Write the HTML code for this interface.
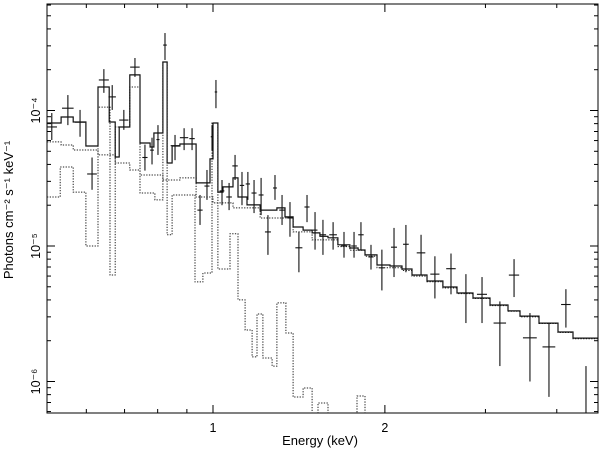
<!DOCTYPE html>
<html><head><meta charset="utf-8"><style>
html,body{margin:0;padding:0;background:#fff;width:600px;height:452px;overflow:hidden}
svg{display:block;font-family:"Liberation Sans",sans-serif}
</style></head><body>
<svg id="chart" width="600" height="452" viewBox="0 0 600 452" xmlns="http://www.w3.org/2000/svg">
<defs><clipPath id="plotclip"><rect x="47" y="4" width="551" height="409"/></clipPath></defs>
<rect x="47" y="4" width="551" height="409" fill="none" stroke="#000" stroke-width="1"/>
<g id="ticks"></g>
<g id="marks" clip-path="url(#plotclip)"></g>
<g id="labels" font-size="12.5" fill="#000"></g>
<text x="320" y="445" font-size="13" text-anchor="middle">Energy (keV)</text>
<text transform="translate(13,210) rotate(-90)" font-size="13" text-anchor="middle">Photons cm⁻² s⁻¹ keV⁻¹</text>
</svg>
<script>
// data points (flux in units of 1e-5 photons cm^-2 s^-1 keV^-1)
const energy = [0.522,0.557,0.585,0.614,0.644,0.666,0.698,0.730,0.760,0.782,0.801,0.824,0.858,0.890,0.919,0.949,0.976,0.996,1.012,1.037,1.067,1.093,1.124,1.151,1.180,1.214,1.248,1.284,1.321,1.364,1.414,1.461,1.509,1.558,1.623,1.696,1.766,1.816,1.891,1.976,2.075,2.177,2.314,2.447,2.611,2.773,2.959,3.18,3.367,3.59,3.876,4.15,4.5];
const energyErr = [0.011,0.013,0.012,0.012,0.013,0.010,0.013,0.014,0.008,0.006,0.005,0.006,0.015,0.015,0.010,0.010,0.010,0.005,0.005,0.010,0.012,0.012,0.010,0.010,0.012,0.012,0.015,0.010,0.015,0.015,0.020,0.015,0.015,0.020,0.025,0.020,0.020,0.020,0.020,0.020,0.025,0.025,0.040,0.045,0.050,0.060,0.060,0.080,0.070,0.100,0.100,0.080,0];
const flux = [7.56,10.4,8.2,3.4,16.8,12.6,8.5,20.9,4.5,5.1,6.1,30.4,5.5,6.3,6.2,1.84,2.77,6.4,13.7,2.55,2.3,3.9,2.8,2.87,2.46,2.38,1.27,2.68,1.84,1.61,0.97,1.94,1.31,1.21,1.21,1.0,1.0,1.21,0.83,0.69,0.98,1.03,0.89,0.62,0.68,0.45,0.44,0.27,0.61,0.21,0.18,0.37,0.003];
const fluxLo = [6.06,7.8,6.4,2.6,13.5,10.1,7.2,17.7,3.6,4.0,4.7,23.6,4.3,5.1,5.1,1.43,2.19,5.1,10.4,2.0,1.84,3.07,2.0,2.19,1.75,1.69,0.86,2.19,1.43,1.17,0.64,1.5,0.94,0.86,0.94,0.82,0.82,0.94,0.67,0.47,0.59,0.64,0.61,0.41,0.44,0.27,0.27,0.13,0.42,0.10,0.077,0.25,0.001];
const fluxHi = [9.58,13.0,10.1,4.5,20.2,15.4,10.1,24.4,5.6,6.3,7.8,37.3,6.6,7.4,7.4,2.38,3.64,7.8,16.8,3.07,2.92,4.7,3.52,3.52,3.07,3.18,1.69,3.34,2.38,2.11,1.27,2.38,1.78,1.56,1.5,1.27,1.27,1.5,1.02,0.94,1.36,1.43,1.21,0.84,0.88,0.62,0.59,0.39,0.80,0.32,0.27,0.48,0.13];
// total model (step histogram): bin edges (keV) and values
const modelEdges = [0.512,0.542,0.569,0.599,0.629,0.658,0.674,0.685,0.715,0.745,0.776,0.788,0.817,0.831,0.848,0.875,0.934,0.988,1.0,1.020,1.041,1.084,1.106,1.147,1.209,1.294,1.337,1.381,1.438,1.491,1.539,1.590,1.655,1.737,1.795,1.846,1.937,2.042,2.143,2.231,2.370,2.527,2.675,2.853,3.056,3.286,3.449,3.724,4.02,4.27,4.72];
const modelValues = [8.09,8.96,8.23,5.47,14.9,8.23,4.54,7.56,18.3,5.76,5.38,6.82,22.8,4.10,5.47,5.66,2.92,4.39,8.09,2.50,2.73,3.18,2.30,2.01,1.84,1.91,1.64,1.38,1.31,1.25,1.18,1.15,1.02,0.967,0.935,0.859,0.724,0.712,0.677,0.611,0.552,0.498,0.450,0.413,0.367,0.332,0.304,0.270,0.232,0.209];
// continuum component
const contEdges = [0.512,0.542,0.569,0.629,0.674,0.715,0.745,0.817,0.875,0.934,1.0,1.084,1.209,1.381,1.491,1.655,1.737,1.846,1.937,2.143,2.231,2.370,2.527,2.675,2.853,3.056,3.286,3.449,3.724,4.02,4.27,4.72];
const contValues = [5.86,5.56,5.11,4.70,4.10,3.64,3.34,3.07,3.18,2.30,2.08,1.91,1.61,1.27,1.11,0.99,0.93,0.84,0.69,0.66,0.60,0.545,0.49,0.445,0.41,0.363,0.33,0.30,0.268,0.23,0.207];
// line-emission component
const lineEdges = [0.512,0.540,0.569,0.599,0.629,0.660,0.674,0.715,0.745,0.791,0.817,0.831,0.848,0.930,0.960,0.996,1.020,1.071,1.106,1.138,1.171,1.194,1.223,1.269,1.294,1.342,1.381,1.438,1.491,1.527,1.590,1.787,1.846,4.72];
const lineValues = [2.30,3.83,2.50,1.00,10.6,0.611,7.56,14.9,2.46,2.19,22.8,1.21,2.38,0.543,0.632,8.09,0.677,1.23,0.400,0.240,0.152,0.315,0.149,0.130,0.380,0.228,0.0768,0.0896,0.03,0.0694,0.03,0.0782,0.03];
const xMajorTicks = [1,2];
const xMajorLabels = ["1","2"];
const xMinorTicks = [0.6,0.7,0.8,0.9,3,4];
const yDecades = [-4,-5,-6];
const yLabels = ["10⁻⁴","10⁻⁵","10⁻⁶"];

const X0=213, XS=571, Y0=110.5, YS=135.5;
function xPx(e){return X0+XS*Math.log10(e);}
function yPx(f){return Math.max(3,Math.min(414,Y0+YS*(1-Math.log10(f))));}
function yPxAbs(F){return Y0+YS*(1-Math.log10(F/1e-5));}
const NS="http://www.w3.org/2000/svg";
const marks=document.getElementById('marks');
const ticks=document.getElementById('ticks');
const labels=document.getElementById('labels');
function mk(tag,attrs,parent){const el=document.createElementNS(NS,tag);for(const k in attrs)el.setAttribute(k,attrs[k]);parent.appendChild(el);return el;}
function stepPath(edges,vals){let d='M'+xPx(edges[0]).toFixed(1)+','+yPx(vals[0]).toFixed(1);
 for(let i=0;i<vals.length;i++){const y=yPx(vals[i]).toFixed(1);d+=' V'+y+' H'+xPx(edges[i+1]).toFixed(1);}return d;}

let p=mk('path',{d:stepPath(lineEdges,lineValues),fill:'none',stroke:'#222','stroke-width':1,'stroke-dasharray':'1.3,1.4'},marks);


p=mk('path',{d:stepPath(contEdges,contValues),fill:'none',stroke:'#222','stroke-width':1,'stroke-dasharray':'1.3,1.4'},marks);


p=mk('path',{d:stepPath(modelEdges,modelValues),fill:'none',stroke:'#111','stroke-width':1.2},marks);



for(let i=0;i<energy.length;i++){
 const g=mk('g',{stroke:'#111','stroke-width':1.1},marks);
 
 
 const cx=xPx(energy[i]),cy=yPx(flux[i]);
 if(energyErr[i]>0) mk('line',{x1:xPx(energy[i]-energyErr[i]),x2:xPx(energy[i]+energyErr[i]),y1:cy,y2:cy},g);
 mk('line',{x1:cx,x2:cx,y1:yPx(fluxLo[i]),y2:yPx(fluxHi[i])},g);
}

function tick(x1,y1,x2,y2,name){const l=mk('line',{x1:x1,y1:y1,x2:x2,y2:y2,stroke:'#000','stroke-width':1},ticks);
 
 }
xMajorTicks.forEach((e,i)=>{const x=xPx(e);tick(x,413,x,405,'x-major-tick');tick(x,4,x,12,'x-major-tick');
 const t=mk('text',{x:x,y:432,'text-anchor':'middle'},labels);t.textContent=xMajorLabels[i];
 
 });
xMinorTicks.forEach(e=>{const x=xPx(e);tick(x,413,x,409,'x-minor-tick');tick(x,4,x,8,'x-minor-tick');});
yDecades.forEach((d,i)=>{const y=yPxAbs(Math.pow(10,d));
 tick(47,y,55,y,'y-major-tick');tick(598,y,590,y,'y-major-tick');
 const t=mk('text',{transform:'translate(40,'+y+') rotate(-90)','text-anchor':'middle'},labels);t.textContent=yLabels[i];
 
 
});
[-7,-6,-5,-4,-3].forEach(d=>{for(let m=2;m<=9;m++){const y=yPxAbs(m*Math.pow(10,d));
 if(y>4.5&&y<412.5){tick(47,y,51,y,'y-minor-tick');tick(598,y,594,y,'y-minor-tick');}}});
</script>
</body></html>
